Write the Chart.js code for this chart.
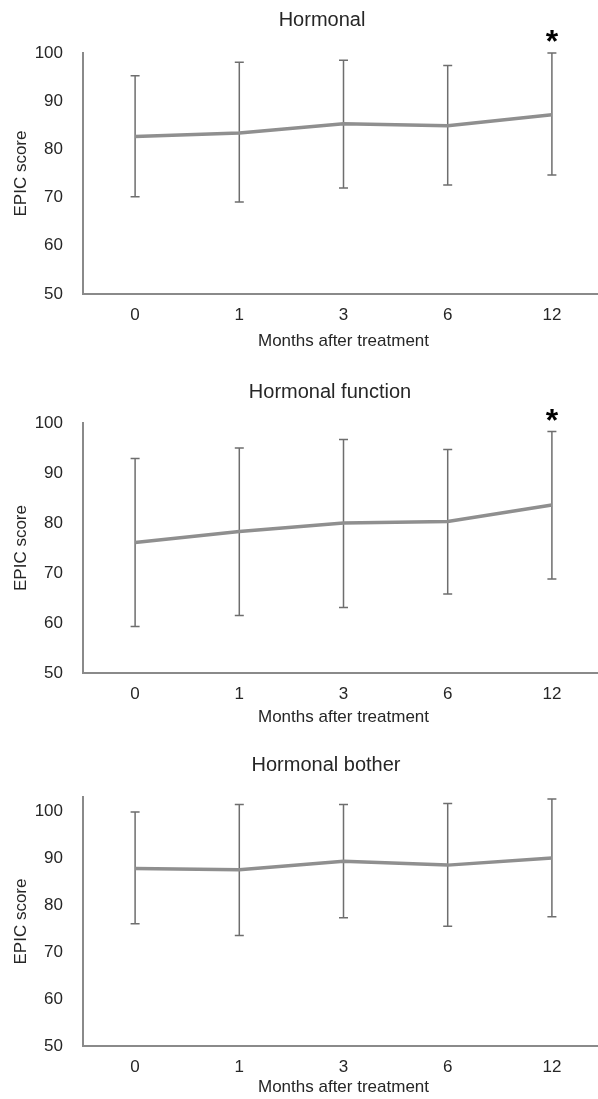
<!DOCTYPE html>
<html>
<head>
<meta charset="utf-8">
<script src="https://cdn.jsdelivr.net/npm/chart.js@4.4.0/dist/chart.umd.min.js"></script>
<style>
    body { margin: 0; width: 598px; height: 1099px; overflow: hidden; background: #fff; position: relative; }
    .panel { position: absolute; left: 0; width: 604px; }
</style>
</head>
<body>
<div class="panel" style="top:0;height:360px"><canvas id="hormonalChart"></canvas></div>
<div class="panel" style="top:360px;height:370px"><canvas id="functionChart"></canvas></div>
<div class="panel" style="top:730px;height:369px"><canvas id="botherChart"></canvas></div>
<script>
const months = ['0', '1', '3', '6', '12'];
const yTickValues = [50, 60, 70, 80, 90, 100];

// Hormonal
const hormonalMean = [82.7, 83.4, 85.3, 84.9, 87.2];
const hormonalUpper = [95.3, 98.1, 98.5, 97.4, 100.0];
const hormonalLower = [70.2, 69.1, 72.0, 72.6, 74.7];

// Hormonal function
const functionMean = [76.1, 78.3, 80.0, 80.3, 83.6];
const functionUpper = [92.9, 95.0, 96.7, 94.7, 98.3];
const functionLower = [59.3, 61.5, 63.1, 65.8, 68.8];

// Hormonal bother
const botherMean = [87.8, 87.5, 89.3, 88.5, 90.0];
const botherUpper = [99.8, 101.4, 101.4, 101.6, 102.6];
const botherLower = [76.0, 73.5, 77.3, 75.5, 77.5];

const FONT = "'Liberation Sans', Arial, sans-serif";
const TEXT = '#262626';
const AXIS = '#8a8a8a';

function makeChart(id, p) {
    // error bars, title and significance star
    const extras = {
        id: 'extras',
        beforeDatasetsDraw(chart) {
            const x = chart.scales.x, y = chart.scales.y, ctx = chart.ctx;
            ctx.save();
            ctx.strokeStyle = '#6e6e6e';
            ctx.lineWidth = 1.5;
            p.lower.forEach((lo, i) => {
                const px = x.getPixelForValue(i);
                const top = y.getPixelForValue(p.upper[i]);
                const bot = y.getPixelForValue(lo);
                ctx.beginPath();
                ctx.moveTo(px, top); ctx.lineTo(px, bot);
                ctx.moveTo(px - 4.5, top); ctx.lineTo(px + 4.5, top);
                ctx.moveTo(px - 4.5, bot); ctx.lineTo(px + 4.5, bot);
                ctx.stroke();
            });
            ctx.restore();
        },
        afterDraw(chart) {
            const ctx = chart.ctx;
            ctx.save();
            ctx.fillStyle = TEXT;
            ctx.font = '20px ' + FONT;
            ctx.textAlign = 'center';
            ctx.textBaseline = 'middle';
            ctx.fillText(p.title, p.titleX, p.titleY);
            if (p.star !== undefined) {
                const px = chart.scales.x.getPixelForValue(p.star);
                const top = chart.scales.y.getPixelForValue(p.upper[p.star]);
                ctx.fillStyle = '#000';
                ctx.font = 'bold 32px ' + FONT;
                ctx.textBaseline = 'alphabetic';
                ctx.fillText('*', px, top - 19 + 0.57 * 32);
            }
            ctx.restore();
        }
    };

    return new Chart(document.getElementById(id), {
        type: 'line',
        data: {
            labels: months,
            datasets: [{
                data: p.mean,
                borderColor: '#8f8f8f',
                borderWidth: 3.5,
                pointRadius: 0,
                tension: 0
            }]
        },
        options: {
            responsive: true,
            maintainAspectRatio: false,
            animation: false,
            layout: { padding: { top: p.padTop, right: 0, bottom: 0, left: 0 } },
            plugins: { legend: { display: false }, tooltip: { enabled: false }, title: { display: false } },
            scales: {
                x: {
                    type: 'category',
                    offset: true,
                    grid: { display: false, drawTicks: false },
                    border: { display: true, color: AXIS, width: 2 },
                    ticks: { color: TEXT, font: { family: FONT, size: 17 }, padding: 11 },
                    title: {
                        display: true, text: 'Months after treatment', color: TEXT,
                        font: { family: FONT, size: 17 }, padding: { top: 0, bottom: p.xTitlePad }
                    },
                    afterFit(scale) { scale.height = p.xAxisHeight; }
                },
                y: {
                    min: 50,
                    max: p.yMax,
                    grid: { display: false, drawTicks: false },
                    border: { display: true, color: AXIS, width: 2 },
                    ticks: { color: TEXT, font: { family: FONT, size: 17 }, padding: 20 },
                    afterBuildTicks(scale) { scale.ticks = yTickValues.map(v => ({ value: v })); },
                    title: {
                        display: true, text: 'EPIC score', color: TEXT,
                        font: { family: FONT, size: 17 }, padding: { top: 11, bottom: 0 }
                    },
                    afterFit(scale) { scale.width = 83; }
                }
            }
        },
        plugins: [extras]
    });
}

makeChart('hormonalChart', {
    title: 'Hormonal', titleX: 322, titleY: 20,
    mean: hormonalMean, upper: hormonalUpper, lower: hormonalLower,
    yMax: 100, padTop: 53, xAxisHeight: 66, xTitlePad: 8, star: 4
});

makeChart('functionChart', {
    title: 'Hormonal function', titleX: 330, titleY: 32,
    mean: functionMean, upper: functionUpper, lower: functionLower,
    yMax: 100, padTop: 63, xAxisHeight: 57, xTitlePad: 2, star: 4
});

makeChart('botherChart', {
    title: 'Hormonal bother', titleX: 326, titleY: 35,
    mean: botherMean, upper: botherUpper, lower: botherLower,
    yMax: 103, padTop: 67, xAxisHeight: 53, xTitlePad: 1
});
</script>
</body>
</html>
